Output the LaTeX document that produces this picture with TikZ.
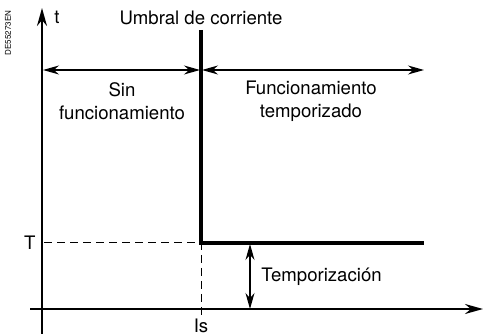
\documentclass[tikz,border=0pt]{standalone}
\usepackage{fontspec}
\setmainfont{TeX Gyre Heros}
\usetikzlibrary{arrows.meta,positioning}
\tikzset{
  axis/.style={line width=1pt, -{Stealth[length=9pt,width=5pt]}},
  curve/.style={line width=1.6pt},
  span/.style={line width=0.6pt, {Stealth[length=8pt,width=4.5pt]}-{Stealth[length=8pt,width=4.5pt]}},
  guide/.style={line width=0.5pt, dashed, dash pattern=on 4pt off 2.5pt},
  lbl/.style={inner sep=0pt, align=center}
}

\begin{document}
\begin{tikzpicture}[x=0.5pt, y=-0.5pt, font=\fontsize{9.3}{9.3}\selectfont]
        \useasboundingbox (0,0) rectangle (483,336);
        % axes
        \coordinate (o) at (42,309);
        \coordinate (ybot) at (42,334);
        \coordinate (ytop) at (42,8);
        \coordinate (xleft) at (30,309);
        \coordinate (xright) at (483,309);
        \draw[axis] (ybot) -- (ytop);
        \draw[axis] (xleft) -- (xright);

        % threshold curve
        \coordinate (c0) at (201,30);
        \coordinate (c1) at (201,243);
        \coordinate (c2) at (424,243);
        \draw[curve] (c0) -- (c1) -- (c2);

        % guides
        \coordinate (tmark) at (44,243);
        \coordinate (ismark) at (201,319);
        \draw[guide] (tmark) -- (c1) -- (ismark);

        % zones
        \coordinate (z0) at (43,70);
        \coordinate (z1) at (200,70);
        \coordinate (z2) at (202,70);
        \coordinate (z3) at (424,70);
        \draw[span] (z0) -- (z1);
        \draw[span] (z2) -- (z3);

        % delay
        \coordinate (d0) at (250,244);
        \coordinate (d1) at (250,309);
        \draw[span] (d0) -- (d1);

        % labels
        \node[lbl, anchor=west] (tlab) at (54,17) {t};
        \node[lbl] (umbral) at (201,18) {Umbral de corriente};
        \node[lbl] (sin) at (122,101) {Sin\\[2pt]funcionamiento};
        \node[lbl] (func) at (311,101) {Funcionamiento\\[2pt]temporizado};
        \node[lbl, anchor=east] (T) at (36,243) {T};
        \node[lbl, anchor=west] (temp) at (261,277) {Temporización};
        \node[lbl] (Is) at (201,326) {Is};
        \node[lbl, rotate=90, font=\fontsize{4}{4}\selectfont] (ref) at (8,33) {DE55273EN};
      \end{tikzpicture}
\end{document}
